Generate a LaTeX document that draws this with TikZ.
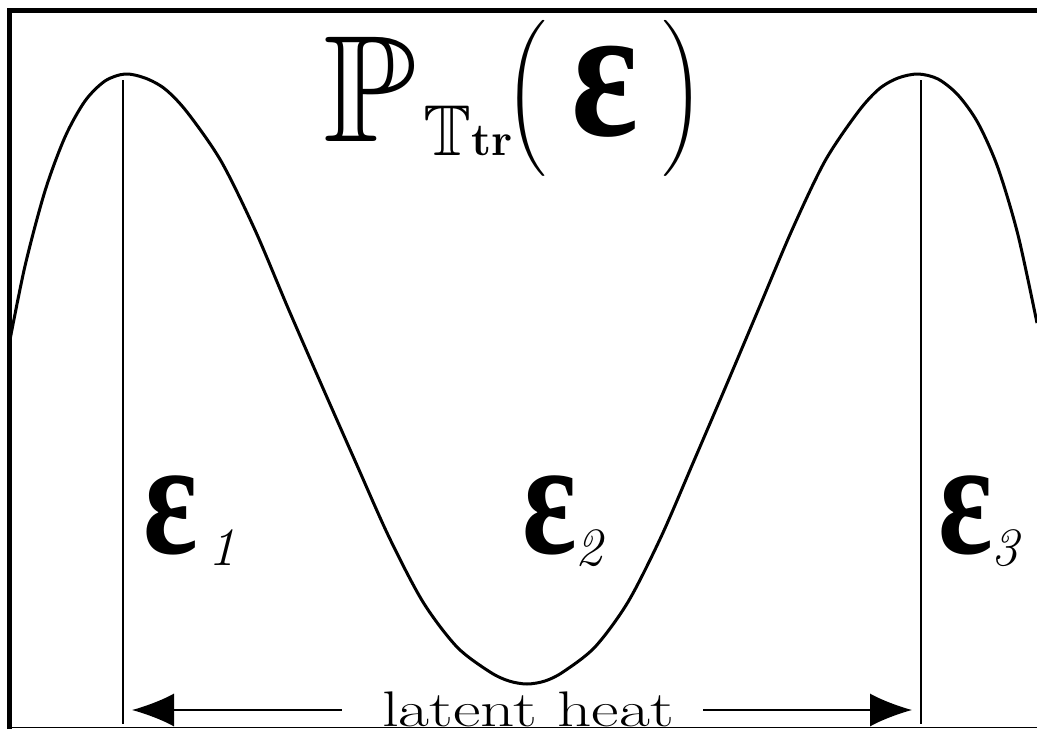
\documentclass[tikz,border=0pt]{standalone}
\usepackage{graphicx}
\usepackage{fontspec}
\usetikzlibrary{arrows.meta}
\newfontfamily\epsfont{Liberation Serif}
\font\bbbig=msbm10 at 152pt
\font\bbsub=msbm10 at 72pt
\font\delimfont=cmex10 at 52pt
\newcommand{\bigeps}[3]{{\epsfont\bfseries\fontsize{#1}{#1}\selectfont\scalebox{#2}[#3]{ε}}}

\begin{document}
\begin{tikzpicture}[x=1pt, y=-1pt,
  frame/.style={line width=5pt},
  thinframe/.style={line width=1.5pt},
  curve/.style={line width=3pt, line join=round},
  level/.style={line width=2.8pt},
  lbl/.style={inner sep=0pt, anchor=base west},
  idx/.style={lbl, font=\itshape\fontsize{54}{54}\selectfont},
  heatarrow/.style={-{Latex[length=42pt,width=33pt]}, line width=1.4pt}]
  \useasboundingbox (0,0) rectangle (1037,729);
  % distribution curve
  \draw[curve] plot[smooth, tension=0.5] coordinates {
    (9,345) (25,266) (45,191) (65,137) (85,101) (105,81) (125,74)
    (145,78) (165,89) (187,112) (221,161) (255,230) (288,308)
    (322,386) (356,463) (389,537) (423,602) (457,647) (490,672)
    (509,681) (527,684) (545,681) (563,672) (595,647) (628,602)
    (661,537) (693,463) (726,386) (759,308) (792,230) (825,161)
    (858,112) (879,89) (898,78) (918,74) (938,79) (958,95)
    (978,123) (998,168) (1018,235) (1037,323)};
  % frame
  \draw[frame] (9.5,729) -- (9.5,10.5) -- (1037,10.5);
  \draw[thinframe] (9.5,727.5) -- (1037,727.5);
  % levels
  \coordinate (topA) at (123,80); \coordinate (footA) at (123,724);
  \coordinate (topB) at (921,80); \coordinate (footB) at (921,724);
  \draw[level] (topA) -- (footA);
  \draw[level] (topB) -- (footB);
  % title
  \node[lbl, font=\bbbig] (probP) at (323,141) {P};
  \node[lbl, font=\bbsub] (probSub) at (423,155) {T\fontsize{46}{46}\selectfont\bfseries tr};
  \node[inner sep=0pt, anchor=north west, font=\delimfont] (lparen) at (505,20) {\char"20};
  \node[lbl] (argEps) at (571,135) {\bigeps{165}{0.95}{1.15}};
  \node[inner sep=0pt, anchor=north east, font=\delimfont] (rparen) at (704,20) {\char"21};
  % energy labels
  \node[lbl] (epsA) at (143,553) {\bigeps{150}{0.85}{1.1}};
  \node[idx] (idxA) at (208,565) {1};
  \node[lbl] (epsB) at (522,553) {\bigeps{150}{0.85}{1.1}};
  \node[idx] (idxB) at (575,565) {2};
  \node[lbl] (epsC) at (938,553) {\bigeps{150}{0.85}{1.1}};
  \node[idx] (idxC) at (991,565) {3};
  % latent heat
  \node[inner sep=0pt, anchor=base, font=\fontsize{50}{50}\selectfont] (heat) at (528,726) {\resizebox{292pt}{\height}{latent heat}};
  \coordinate (tipA) at (132,710);
  \coordinate (tipB) at (912,710);
  \draw[heatarrow, shorten <=40pt] (heat.west |- tipA) -- (tipA);
  \draw[heatarrow, shorten <=29pt] (heat.east |- tipB) -- (tipB);
\end{tikzpicture}
\end{document}
